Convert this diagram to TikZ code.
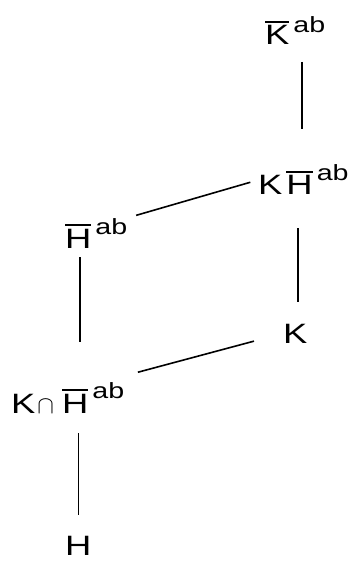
\documentclass[tikz,border=0pt]{standalone}
\usepackage{fontspec}
\setmainfont{Liberation Sans}[FakeStretch=1.3]
\newcommand\ovr[1]{\vbox{\hrule height 2.6pt\kern 2.6pt\hbox{#1}}}
\newcommand\supab[1]{\hspace{4pt}\raisebox{#1}{\fontsize{22}{22}\selectfont ab}}
\tikzset{grp/.style={inner sep=0pt,anchor=base west,font=\fontsize{28}{28}\selectfont},
         incl/.style={line width=1.6pt}}
\begin{document}
\begin{tikzpicture}[x=1pt,y=-1pt]
\useasboundingbox (0,0) rectangle (354,561);
\node(kab) at (265,45)[grp]     {\ovr{K}\supab{12pt}};
\node(khab) at (258,195)[grp]   {K\hspace{4pt}\ovr{H}\supab{14pt}};
\node(hab) at (65,248)[grp]     {\ovr{H}\supab{14pt}};
\node(k) at (283,343)[grp]      {K};
\node(kchab) at (11,413)[grp]   {K\hspace{2pt}{\fontsize{23}{23}\selectfont$\cap$}\hspace{8pt}\ovr{H}\supab{15pt}};
\node(h) at (65,555)[grp]       {H};
\path [incl]
  ([xshift=37pt]kab.base west)     edge [shorten <=17pt,shorten >=36pt] ([xshift=37pt]kab.base west |- khab.north)
  ([xshift=15pt]k.north west |- khab.south) edge [shorten <=33pt,shorten >=22pt] ([xshift=15pt]k.north west)
  (hab.north east)                 edge [shorten <=9pt,shorten >=8pt]   (khab.west)
  ([xshift=15pt]hab.base west)     edge [shorten <=9pt,shorten >=40pt]  ([xshift=15pt]hab.base west |- kchab.north)
  ([yshift=6pt]kchab.north east)   edge [shorten <=14pt,shorten >=30pt] (k.west)
  (h.north |- kchab.south)         edge [shorten <=20pt,shorten >=21pt] (h.north);
\end{tikzpicture}
\end{document}
